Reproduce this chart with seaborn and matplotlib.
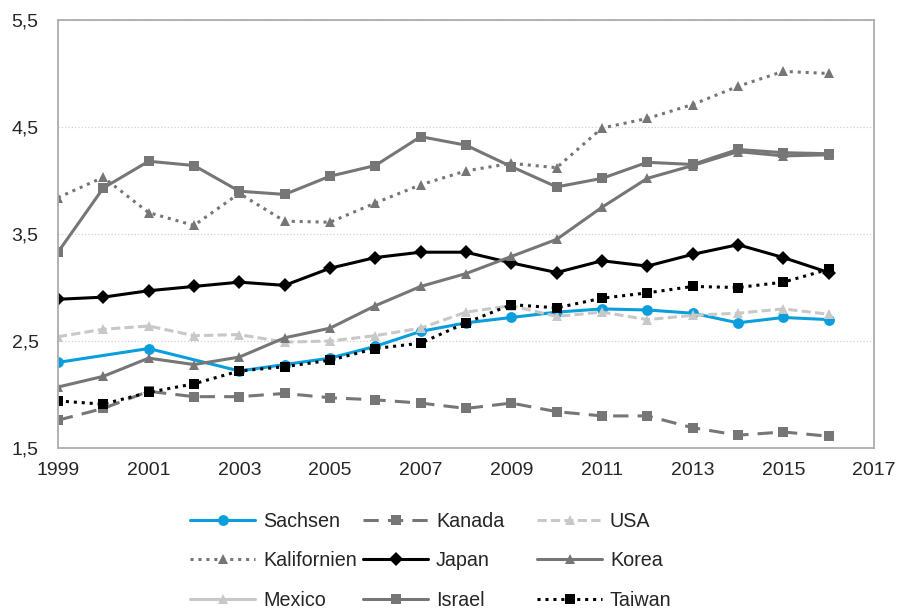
import numpy as np
import pandas as pd
import matplotlib
matplotlib.use("Agg")
import matplotlib.pyplot as plt
import seaborn as sns
from matplotlib.lines import Line2D
from matplotlib.ticker import FuncFormatter

# Daten
jahre = list(range(1999, 2017))
nan = np.nan
sachsen = [2.30, nan, 2.43, nan, 2.22, 2.28, 2.34, 2.45, 2.59, 2.67, 2.72, 2.77, 2.80, 2.79, 2.76, 2.67, 2.72, 2.70]
kanada = [1.76, 1.87, 2.03, 1.98, 1.98, 2.01, 1.97, 1.95, 1.92, 1.87, 1.92, 1.84, 1.80, 1.80, 1.69, 1.62, 1.65, 1.61]
usa = [2.54, 2.61, 2.64, 2.55, 2.56, 2.49, 2.50, 2.55, 2.62, 2.77, 2.83, 2.73, 2.77, 2.70, 2.74, 2.76, 2.80, 2.75]
kalifornien = [3.84, 4.03, 3.70, 3.58, 3.88, 3.62, 3.61, 3.79, 3.96, 4.09, 4.16, 4.12, 4.49, 4.58, 4.71, 4.88, 5.02, 5.00]
japan = [2.89, 2.91, 2.97, 3.01, 3.05, 3.02, 3.18, 3.28, 3.33, 3.33, 3.23, 3.14, 3.25, 3.20, 3.31, 3.40, 3.28, 3.14]
korea = [2.07, 2.17, 2.34, 2.28, 2.35, 2.53, 2.62, 2.83, 3.01, 3.13, 3.29, 3.45, 3.75, 4.02, 4.14, 4.27, 4.23, 4.24]
mexico = [nan] * 18
israel = [3.33, 3.93, 4.18, 4.14, 3.90, 3.87, 4.04, 4.14, 4.41, 4.33, 4.13, 3.94, 4.02, 4.17, 4.15, 4.29, 4.26, 4.25]
taiwan = [1.94, 1.91, 2.02, 2.10, 2.22, 2.26, 2.32, 2.43, 2.48, 2.67, 2.84, 2.81, 2.90, 2.95, 3.01, 3.00, 3.05, 3.17]

x_ticks = list(range(1999, 2018, 2))
y_ticks = [1.5, 2.5, 3.5, 4.5, 5.5]

blau = "#0A9FDC"
grau = "#767676"
hell = "#C8C8C8"

# name, werte, farbe, linestyle, marker
serien = [
    ("Sachsen", sachsen, blau, "-", "o"),
    ("Kanada", kanada, grau, (0, (5, 3)), "s"),
    ("USA", usa, hell, (0, (3, 1.4)), "^"),
    ("Kalifornien", kalifornien, grau, (0, (1, 1.6)), "^"),
    ("Japan", japan, "black", "-", "D"),
    ("Korea", korea, grau, "-", "^"),
    ("Mexico", mexico, hell, "-", "^"),
    ("Israel", israel, grau, "-", "s"),
    ("Taiwan", taiwan, "black", (0, (1, 1.6)), "s"),
]

sns.set_style("white")
plt.rcParams["font.family"] = ["Liberation Sans", "DejaVu Sans"]

fig = plt.figure(figsize=(9, 6.15), dpi=100)
ax = fig.add_axes([0.0644, 0.2715, 0.9067, 0.696])

handles = []
for name, werte, farbe, ls, mk in serien:
    df = pd.DataFrame({"jahr": jahre, "wert": werte}).dropna()
    ms = 7.2 if mk == "D" else 7.8
    if len(df):
        sns.lineplot(data=df, x="jahr", y="wert", ax=ax, color=farbe, linestyle=ls,
                     linewidth=2.2, marker=mk, markersize=ms, markeredgewidth=0,
                     markerfacecolor=farbe, legend=False)
    handles.append(Line2D([], [], color=farbe, linestyle=ls, linewidth=2.2,
                          marker=mk, markersize=ms, markeredgewidth=0, label=name))

ax.set_xlim(1999, 2017)
ax.set_ylim(1.5, 5.5)
ax.set_xticks(x_ticks)
ax.set_yticks(y_ticks)
ax.yaxis.set_major_formatter(FuncFormatter(lambda v, p: f"{v:.1f}".replace(".", ",")))
ax.set_xlabel("")
ax.set_ylabel("")
ax.tick_params(axis="x", length=0, labelsize=14, pad=10)
ax.tick_params(axis="y", length=0, labelsize=14, pad=14)
ax.yaxis.grid(True, linestyle=":", color="#D0D0D0", linewidth=0.9)
ax.xaxis.grid(False)
for sp in ax.spines.values():
    sp.set_color("#ADADAD")
    sp.set_linewidth(1.3)

# Legende: drei gleich breite Spalten, zeilenweise gefuellt
spalten_x = [190 / 900, 363 / 900, 537 / 900]
for k, x0 in enumerate(spalten_x):
    leg = fig.legend(handles=handles[k::3], loc="center left", bbox_to_anchor=(x0, 0.088),
                     frameon=False, fontsize=14.2, handlelength=3.3, handletextpad=0.4,
                     labelspacing=1.05, borderpad=0, borderaxespad=0)

fig.savefig("out.png", dpi=100)
